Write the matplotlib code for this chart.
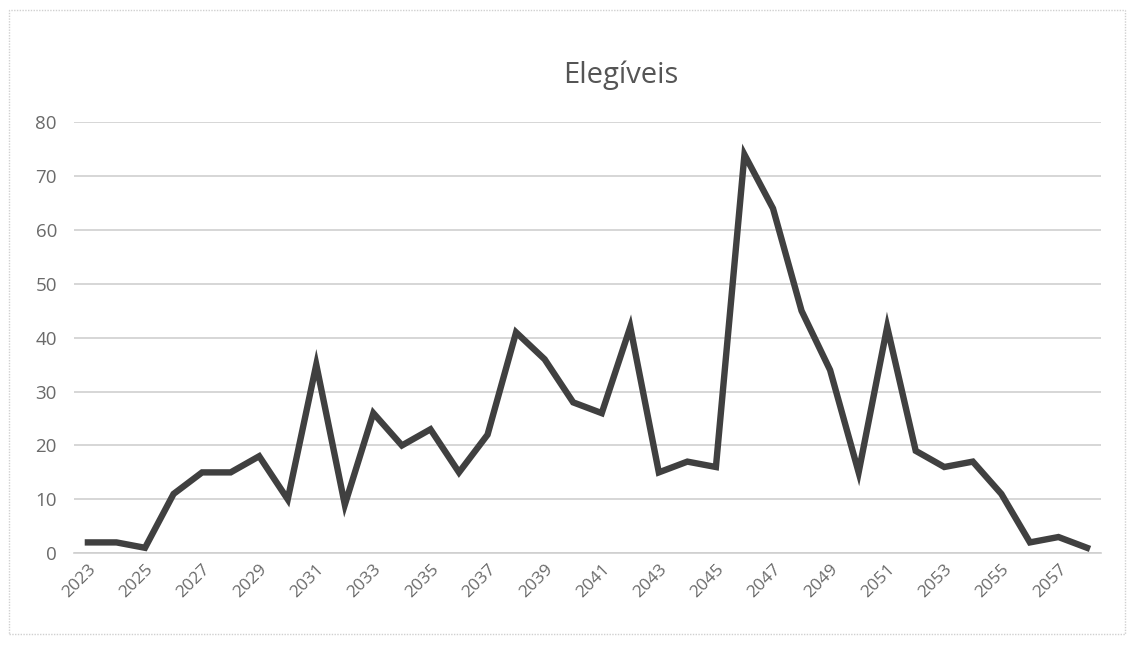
import matplotlib
matplotlib.use("Agg")
import matplotlib.pyplot as plt
from matplotlib.patches import Rectangle

years = list(range(2023, 2059))
values = [2, 2, 1, 11, 15, 15, 18, 10, 35, 9, 26, 20, 23, 15, 22, 41, 36, 28, 26, 42,
          15, 17, 16, 74, 64, 45, 34, 15, 42, 19, 16, 17, 11, 2, 3, 1]
title = "Elegíveis"
yticks = [0, 10, 20, 30, 40, 50, 60, 70, 80]

plt.rcParams['font.family'] = ['Open Sans', 'DejaVu Sans']

fig = plt.figure(figsize=(11.33, 6.47), dpi=100)
ax = fig.add_axes([0.065, 0.145, 0.907, 0.666])

x = list(range(len(years)))
ax.plot(x, values, color='#404040', lw=4.6, solid_joinstyle='miter', zorder=3)

ax.set_xlim(-0.5, len(years) - 0.5)
ax.set_ylim(0, 80)
ax.set_yticks(yticks)
ax.set_yticklabels([str(v) for v in yticks], color='#6a6a6a', fontsize=13.5)
ax.set_xticks(x[::2])
ax.set_xticklabels([str(y) for y in years[::2]], rotation=45, ha='right',
                   rotation_mode='anchor', color='#6a6a6a', fontsize=12.5)
ax.grid(axis='y', color='#cfcfcf', lw=1.2)
ax.set_axisbelow(True)
for s in ['top', 'right', 'left']:
    ax.spines[s].set_visible(False)
ax.spines['bottom'].set_color('#cfcfcf')
ax.spines['bottom'].set_linewidth(1.2)
ax.tick_params(axis='y', length=0, pad=12)
ax.tick_params(axis='x', length=0, pad=6)

fig.text(0.548, 0.884, title, ha='center', va='center', fontsize=21, color='#555555')

fig.patches.append(Rectangle((0.008, 0.02), 0.985, 0.965, transform=fig.transFigure,
                             fill=False, edgecolor='#d0d0d0', lw=1.0, ls=(0, (1, 1))))

fig.savefig('out.png', dpi=100, facecolor='white')
